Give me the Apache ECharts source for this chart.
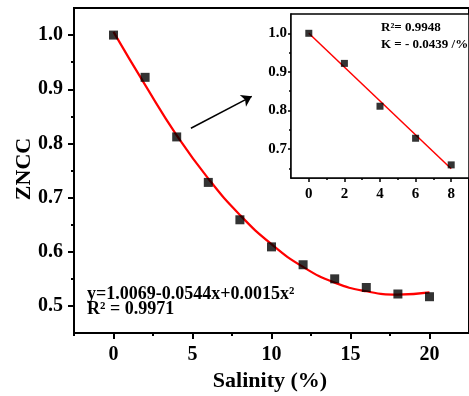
<!DOCTYPE html>
<html>
<head>
<meta charset="utf-8">
<script src="https://cdn.jsdelivr.net/npm/echarts@6/dist/echarts.min.js"></script>
<style>
html,body{margin:0;padding:0;background:#fff;}
#chart{width:469px;height:396px;}
</style>
</head>
<body>
<div id="chart"></div>
<script>
// ---- data ----
const salinity = [0, 2, 4, 6, 8, 10, 12, 14, 16, 18, 20];
const zncc = [1.000, 0.922, 0.812, 0.728, 0.659, 0.609, 0.576, 0.550, 0.534, 0.522, 0.517];
const fitY = [1.006, 0.908, 0.815, 0.735, 0.668, 0.614, 0.572, 0.543, 0.527, 0.521, 0.525];

const insetX = [0, 2, 4, 6, 8];
const insetY = [1.000, 0.922, 0.811, 0.728, 0.659];
const linFitX = [0, 8];
const linFitY = [1.000, 0.649];

const xTicks = [0, 5, 10, 15, 20];
const xMinorTicks = [-2.5, 2.5, 7.5, 12.5, 17.5];
const yTicks = [0.5, 0.6, 0.7, 0.8, 0.9, 1.0];
const yMinorTicks = [0.55, 0.65, 0.75, 0.85, 0.95];
const insetXTicks = [0, 2, 4, 6, 8];
const insetXMinorTicks = [1, 3, 5, 7];
const insetYTicks = [0.7, 0.8, 0.9, 1.0];
const insetYMinorTicks = [0.65, 0.75, 0.85, 0.95];

const eqText = 'y=1.0069-0.0544x+0.0015x²';
const r2Text = 'R² = 0.9971';
const insetR2 = 'R²= 0.9948';
const insetK = 'K = - 0.0439 /%';
const arrowFrom = [4.9, 0.828];
const arrowTo = [8.75, 0.887];

// ---- chart ----
const FONT = 'Liberation Serif';
const chart = echarts.init(document.getElementById('chart'), null, {renderer: 'canvas'});
const zip = (a, b) => a.map((v, i) => [v, b[i]]);

function axisBase(extra) {
  const o = Object.assign({
    type: 'value',
    splitLine: {show: false},
  }, extra);
  o.axisLine = Object.assign({onZero: false}, o.axisLine || {});
  return o;
}

const option = {
  backgroundColor: '#fff',
  animation: false,
  grid: [
    {left: 74, top: 8, right: -8, bottom: 63, show: true, borderColor: '#000', borderWidth: 2, backgroundColor: 'transparent'},
    {left: 291, top: 14, right: -3, bottom: 218, show: true, borderColor: '#000', borderWidth: 1.5, backgroundColor: '#fff', z: 5}
  ],
  xAxis: [
    axisBase({gridIndex: 0, min: -2.5, max: 22.5, position: 'bottom',
      axisLine: {lineStyle: {color: '#000', width: 2}},
      axisTick: {customValues: xTicks, length: 6, lineStyle: {color: '#000', width: 2}},
      axisLabel: {customValues: xTicks, margin: 12, color: '#000', fontFamily: FONT, fontWeight: 'bold', fontSize: 20}
    }),
    axisBase({gridIndex: 0, min: -2.5, max: 22.5, position: 'bottom',
      axisLine: {show: false},
      axisTick: {customValues: xMinorTicks, length: 3, lineStyle: {color: '#000', width: 2}},
      axisLabel: {show: false}
    }),
    axisBase({gridIndex: 1, min: -1, max: 9, position: 'bottom',
      axisLine: {lineStyle: {color: '#000', width: 1.5}},
      axisTick: {customValues: insetXTicks, length: 4, lineStyle: {color: '#000', width: 1.5}},
      axisLabel: {customValues: insetXTicks, margin: 9, color: '#000', fontFamily: FONT, fontWeight: 'bold', fontSize: 15}
    }),
    axisBase({gridIndex: 1, min: -1, max: 9, position: 'bottom',
      axisLine: {show: false},
      axisTick: {customValues: insetXMinorTicks, length: 2, lineStyle: {color: '#000', width: 1.5}},
      axisLabel: {show: false}
    })
  ],
  yAxis: [
    axisBase({gridIndex: 0, min: 0.45, max: 1.05, position: 'left',
      axisLine: {lineStyle: {color: '#000', width: 2}},
      axisTick: {customValues: yTicks, length: 6, lineStyle: {color: '#000', width: 2}},
      axisLabel: {customValues: yTicks, margin: 11, color: '#000', fontFamily: FONT, fontWeight: 'bold', fontSize: 20,
        formatter: v => v.toFixed(1)}
    }),
    axisBase({gridIndex: 0, min: 0.45, max: 1.05, position: 'left',
      axisLine: {show: false},
      axisTick: {customValues: yMinorTicks, length: 3, lineStyle: {color: '#000', width: 2}},
      axisLabel: {show: false}
    }),
    axisBase({gridIndex: 1, min: 0.625, max: 1.05, position: 'left',
      axisLine: {lineStyle: {color: '#000', width: 1.5}},
      axisTick: {customValues: insetYTicks, length: 3, lineStyle: {color: '#000', width: 1.5}},
      axisLabel: {customValues: insetYTicks, margin: 4, color: '#000', fontFamily: FONT, fontWeight: 'bold', fontSize: 15,
        formatter: v => v.toFixed(1)}
    }),
    axisBase({gridIndex: 1, min: 0.625, max: 1.05, position: 'left',
      axisLine: {show: false},
      axisTick: {customValues: insetYMinorTicks, length: 2, lineStyle: {color: '#000', width: 1.5}},
      axisLabel: {show: false}
    })
  ],
  series: [
    {type: 'line', xAxisIndex: 0, yAxisIndex: 0, data: zip(salinity, fitY), smooth: true,
      showSymbol: false, lineStyle: {color: '#ff0000', width: 2.2}, z: 2},
    {type: 'scatter', xAxisIndex: 0, yAxisIndex: 0, data: zip(salinity, zncc), symbol: 'rect', symbolSize: 9,
      itemStyle: {color: '#000'}, z: 3,
      markLine: {silent: true, symbol: ['none', 'arrow'], symbolSize: 10,
        lineStyle: {color: '#000', width: 1.5, type: 'solid'}, label: {show: false},
        data: [[{coord: arrowFrom}, {coord: arrowTo}]]}
    },
    {type: 'line', xAxisIndex: 2, yAxisIndex: 2, data: zip(linFitX, linFitY),
      showSymbol: false, lineStyle: {color: '#ff0000', width: 1.5}, z: 6},
    {type: 'scatter', xAxisIndex: 2, yAxisIndex: 2, data: zip(insetX, insetY), symbol: 'rect', symbolSize: 7,
      itemStyle: {color: '#000'}, z: 7}
  ],
  graphic: [
    {type: 'text', left: 87, top: 285, z: 10,
      style: {text: eqText, fill: '#000', font: 'bold 18px "' + FONT + '"'}},
    {type: 'text', left: 87, top: 300, z: 10,
      style: {text: r2Text, fill: '#000', font: 'bold 18px "' + FONT + '"'}},
    {type: 'text', left: 381, top: 21, z: 10,
      style: {text: insetR2, fill: '#000', font: 'bold 13px "' + FONT + '"'}},
    {type: 'text', left: 381, top: 38, z: 10,
      style: {text: insetK, fill: '#000', font: 'bold 13px "' + FONT + '"'}},
    {type: 'text', x: 270, y: 381, z: 10,
      style: {text: 'Salinity (%)', fill: '#000', font: 'bold 22px "' + FONT + '"', align: 'center', verticalAlign: 'middle'}},
    {type: 'text', x: 24, y: 169, rotation: Math.PI / 2, z: 10,
      style: {text: 'ZNCC', fill: '#000', font: 'bold 22px "' + FONT + '"', align: 'center', verticalAlign: 'middle'}}
  ]
};
chart.setOption(option);
</script>
</body>
</html>
